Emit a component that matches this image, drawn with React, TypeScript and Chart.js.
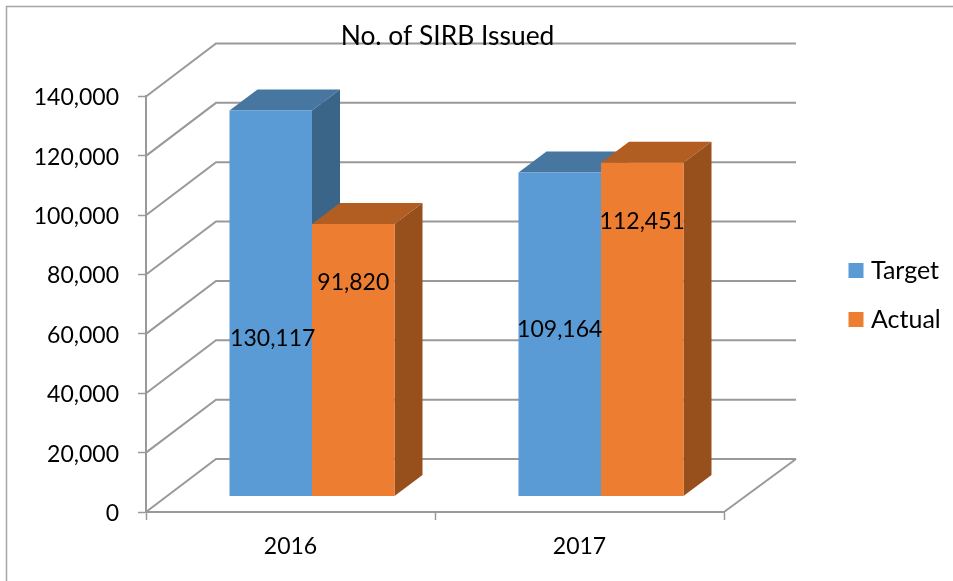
import React, { useEffect, useRef } from "react";
import { Chart, registerables } from "chart.js";

Chart.register(...registerables);

const categories = ["2016", "2017"];
const targetValues = [130117, 109164];
const actualValues = [91820, 112451];
const seriesNames = ["Target", "Actual"];
const frontColors = ["#5B9BD5", "#ED7D31"];
const topColors = ["#4776A1", "#B25D22"];
const sideColors = ["#3A6488", "#974F1C"];

// manual label shifts from the centre of each bar's front face, as in the source
const labelShiftY = [
  [35, -5],
  [-78, -108],
];
const labelShiftX = [
  [2, 0],
  [0, 0],
];

const FONT = "Lato, Carlito, Calibri, sans-serif";
const GRID = "#999999";
const WALL = { dx: 70, dy: -53, rightBack: 796 };
const BAR = { dx: 21.5, dy: -15.4, depthX: 28, depthY: -21 };

function poly(ctx: CanvasRenderingContext2D, pts: number[][], fill: string) {
  ctx.fillStyle = fill;
  ctx.beginPath();
  pts.forEach((p, i) => (i ? ctx.lineTo(p[0], p[1]) : ctx.moveTo(p[0], p[1])));
  ctx.closePath();
  ctx.fill();
}

const scene3d = {
  id: "scene3d",
  afterLayout(chart: any) {
    const t = chart.titleBlock;
    t.left = 247.5;
    t.right = 647.5;
    t.width = 400;
    const l = chart.legend;
    l.left = 829.5;
    l.right = 953;
    l.top = 234;
    l.bottom = 400;
  },
  beforeDraw(chart: any) {
    const { ctx, chartArea, scales } = chart;
    ctx.save();
    ctx.strokeStyle = "#A6A6A6";
    ctx.lineWidth = 1.5;
    ctx.beginPath();
    ctx.moveTo(6.5, 581);
    ctx.lineTo(6.5, 6.5);
    ctx.lineTo(953, 6.5);
    ctx.stroke();

    ctx.strokeStyle = GRID;
    ctx.lineWidth = 2;
    scales.y.ticks.forEach((tick: any) => {
      const y = scales.y.getPixelForValue(tick.value);
      ctx.beginPath();
      ctx.moveTo(chartArea.left, y);
      ctx.lineTo(chartArea.left + WALL.dx, y + WALL.dy);
      ctx.lineTo(WALL.rightBack, y + WALL.dy);
      ctx.stroke();
    });
    ctx.beginPath();
    ctx.moveTo(WALL.rightBack, chartArea.bottom + WALL.dy);
    ctx.lineTo(chartArea.right, chartArea.bottom);
    ctx.stroke();
    ctx.restore();
  },
  beforeDatasetsDraw(chart: any) {
    const { ctx } = chart;
    chart.data.datasets.forEach((_: any, i: number) => {
      const meta = chart.getDatasetMeta(i);
      ctx.save();
      ctx.translate(BAR.dx, BAR.dy);
      meta.data.forEach((bar: any) => {
        const l = bar.x - bar.width / 2;
        const r = bar.x + bar.width / 2;
        const t = bar.y;
        const b = bar.base;
        const dx = BAR.depthX;
        const dy = BAR.depthY;
        poly(ctx, [[l, t], [l + dx, t + dy], [r + dx, t + dy], [r, t]], topColors[i]);
        poly(ctx, [[r, t], [r + dx, t + dy], [r + dx, b + dy], [r, b]], sideColors[i]);
      });
      meta.controller.draw();
      ctx.restore();
    });
    return false;
  },
  afterDraw(chart: any) {
    const { ctx } = chart;
    ctx.save();
    ctx.font = `23px ${FONT}`;
    ctx.fillStyle = "#000000";
    ctx.textAlign = "center";
    ctx.textBaseline = "middle";
    chart.data.datasets.forEach((ds: any, i: number) => {
      chart.getDatasetMeta(i).data.forEach((bar: any, j: number) => {
        const x = bar.x + BAR.dx + labelShiftX[i][j];
        const y = (bar.y + bar.base) / 2 + BAR.dy + labelShiftY[i][j];
        ctx.fillText(ds.data[j].toLocaleString("en-US"), x, y);
      });
    });
    ctx.restore();
  },
};

export default function App() {
  const ref = useRef<HTMLCanvasElement>(null);
  useEffect(() => {
    const chart = new Chart(ref.current as HTMLCanvasElement, {
      type: "bar",
      data: {
        labels: categories,
        datasets: [
          { label: seriesNames[0], data: targetValues, backgroundColor: frontColors[0] },
          { label: seriesNames[1], data: actualValues, backgroundColor: frontColors[1] },
        ],
      },
      options: {
        responsive: false,
        animation: false,
        layout: { padding: { left: 0, right: 229, top: 0, bottom: 0 } },
        datasets: { bar: { categoryPercentage: 0.571, barPercentage: 1 } },
        plugins: {
          tooltip: { enabled: false },
          title: {
            display: true,
            text: "No. of SIRB Issued",
            color: "#000000",
            font: { family: FONT, size: 26.4, weight: "normal", lineHeight: 1.2 },
            padding: { top: 20.7, bottom: 44.1 },
          },
          legend: {
            display: true,
            position: "chartArea",
            align: "start",
            labels: {
              color: "#000000",
              font: { family: FONT, size: 25 },
              boxWidth: 5,
              boxHeight: 5,
              padding: 24,
              generateLabels: () =>
                seriesNames.map((text, i) => ({
                  text,
                  fillStyle: frontColors[i],
                  strokeStyle: frontColors[i],
                  lineWidth: 10,
                  datasetIndex: i,
                  hidden: false,
                })),
            },
          },
        },
        scales: {
          x: {
            afterFit: (s: any) => {
              s.height = 69;
            },
            grid: { drawOnChartArea: false, tickLength: 8, tickColor: GRID, tickWidth: 1.5, offset: true },
            border: { color: GRID, width: 2 },
            ticks: { color: "#000000", font: { family: FONT, size: 23 }, padding: 13, maxRotation: 0 },
          },
          y: {
            min: 0,
            max: 140000,
            afterFit: (s: any) => {
              s.width = 146;
            },
            grid: { drawOnChartArea: false, tickLength: 8, tickColor: GRID, tickWidth: 1.5 },
            border: { color: GRID, width: 2 },
            ticks: {
              stepSize: 20000,
              color: "#000000",
              font: { family: FONT, size: 23 },
              padding: 19,
              labelOffset: 1.5,
              callback: (v: any) => Number(v).toLocaleString("en-US"),
            },
          },
        },
      },
      plugins: [scene3d],
    } as any);
    return () => chart.destroy();
  }, []);
  return (
    <div style={{ position: "fixed", left: 0, top: 0, width: 953, height: 581, background: "#fff" }}>
      <canvas ref={ref} width={953} height={581} style={{ display: "block" }} />
    </div>
  );
}
